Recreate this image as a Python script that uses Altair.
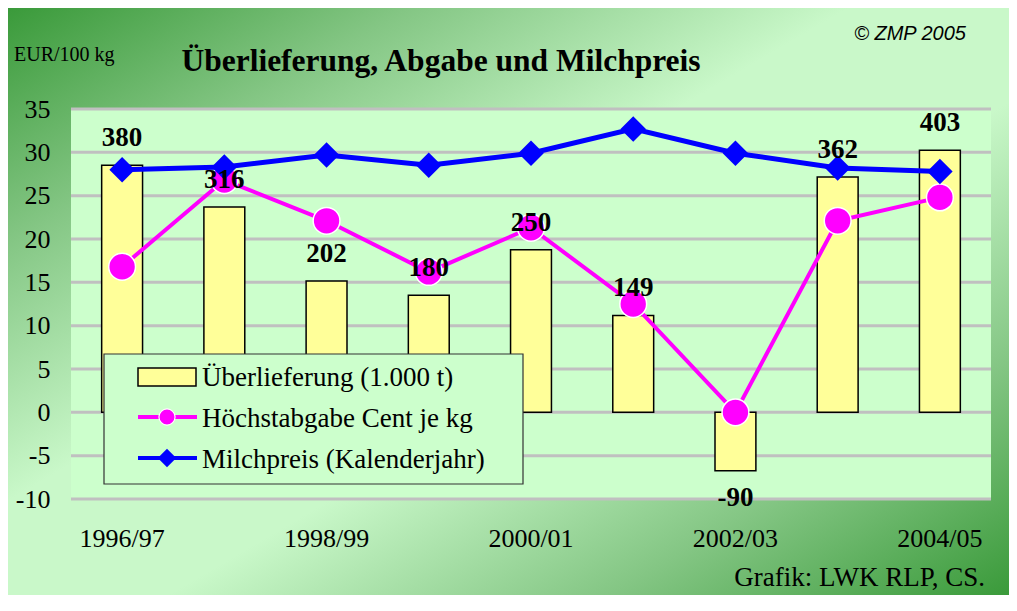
import altair as alt
import pandas as pd

# ---- data ----
seasons = ["1996/97", "1997/98", "1998/99", "1999/00", "2000/01",
           "2001/02", "2002/03", "2003/04", "2004/05"]
ueberlieferung = [380, 316, 202, 180, 250, 149, -90, 362, 403]        # 1.000 t
hoechstabgabe = [16.8, 26.8, 22.1, 16.2, 21.3, 12.5, 0.0, 22.1, 24.8]  # Cent je kg
milchpreis = [28.0, 28.3, 29.7, 28.5, 29.9, 32.7, 29.9, 28.2, 27.8]    # EUR/100 kg
y_ticks = [-10, -5, 0, 5, 10, 15, 20, 25, 30, 35]
x_tick_labels = ["1996/97", "1998/99", "2000/01", "2002/03", "2004/05"]
bar_ratio = 13.33  # 1.000 t per unit of the left axis

df = pd.DataFrame({
    "season": seasons,
    "ueber": ueberlieferung,
    "abgabe": hoechstabgabe,
    "preis": milchpreis,
})
ticks_df = pd.DataFrame({"v": y_ticks})
one = pd.DataFrame({"a": [0]})

W, H = 920, 390
PAD = {"left": 63, "top": 101, "right": 18, "bottom": 96}
SERIF = "Liberation Serif"

xscale = alt.Scale(domain=seasons, paddingInner=0.6, paddingOuter=0.3)
yscale = alt.Scale(domain=[-10, 35], nice=False, zero=False)

x_axis = alt.Axis(values=x_tick_labels, title=None, labelFont=SERIF,
                  labelFontSize=26, labelColor="black", labelPadding=26,
                  ticks=False, domain=False, labelAngle=0, grid=False,
                  zindex=2)
y_axis = alt.Axis(values=y_ticks, title=None, labelFont=SERIF,
                  labelFontSize=26, labelColor="black", labelPadding=21,
                  ticks=False, domain=False, grid=False, zindex=2,
                  labelExpr="'' + datum.value")


def X():
    return alt.X("season:N", sort=seasons, scale=xscale, axis=x_axis)


def Y(field):
    return alt.Y(field, scale=yscale, axis=y_axis)


# background gradient
bg = alt.Chart(one).mark_rect(
    fill=alt.Gradient(
        gradient="linear",
        stops=[
            alt.GradientStop(offset=0, color="#3a9a3a"),
            alt.GradientStop(offset=0.2, color="#84c684"),
            alt.GradientStop(offset=0.42, color="#c9f8c9"),
            alt.GradientStop(offset=0.58, color="#c9f8c9"),
            alt.GradientStop(offset=0.8, color="#84c684"),
            alt.GradientStop(offset=1, color="#3a9a3a"),
        ],
        x1=0, y1=0, x2=1, y2=1,
    ),
    strokeWidth=0,
).encode(x=alt.value(-PAD["left"]), x2=alt.value(W + PAD["right"]),
         y=alt.value(-PAD["top"]), y2=alt.value(H + PAD["bottom"]))

plotbg = alt.Chart(one).mark_rect(fill="#ccffcc", strokeWidth=0).encode(
    x=alt.value(0), x2=alt.value(W), y=alt.value(0), y2=alt.value(H))

grid = alt.Chart(ticks_df).mark_rule(color="#c0c0c0", strokeWidth=3).encode(
    y=Y("v:Q"), x=alt.value(0), x2=alt.value(W))

base = alt.Chart(df).transform_calculate(
    scaled=f"datum.ueber / {bar_ratio}",
    lab="'' + datum.ueber",
)

bars = base.mark_bar(color="#ffff99", stroke="black", strokeWidth=1.5).encode(
    x=X(), y=Y("scaled:Q"))

abg_line = alt.Chart(df).mark_line(color="#ff00ff", strokeWidth=4).encode(
    x=X(), y=Y("abgabe:Q"))
abg_pts = alt.Chart(df).mark_point(shape="circle", filled=True, size=720,
                                   color="#ff00ff", stroke="white",
                                   strokeWidth=1.5, opacity=1).encode(
    x=X(), y=Y("abgabe:Q"))

mp_line = alt.Chart(df).mark_line(color="#0000ff", strokeWidth=5).encode(
    x=X(), y=Y("preis:Q"))
mp_pts = alt.Chart(df).mark_point(shape="diamond", filled=True, size=650,
                                  color="#0000ff", opacity=1).encode(
    x=X(), y=Y("preis:Q"))

lab_style = dict(font=SERIF, fontSize=27, fontWeight="bold", color="black",
                 align="center", baseline="middle")
labels_pos = base.transform_filter("datum.ueber >= 0").mark_text(
    dy=-27, **lab_style).encode(x=X(), y=Y("scaled:Q"), text="lab:N")
labels_neg = base.transform_filter("datum.ueber < 0").mark_text(
    dy=27, **lab_style).encode(x=X(), y=Y("scaled:Q"), text="lab:N")

# legend box
leg_box = alt.Chart(one).mark_rect(fill="#ccffcc", stroke="#333333",
                                   strokeWidth=1.2).encode(
    x=alt.value(33), x2=alt.value(452), y=alt.value(245), y2=alt.value(375))
leg_bar = alt.Chart(one).mark_rect(fill="#ffff99", stroke="black",
                                   strokeWidth=1.5).encode(
    x=alt.value(67), x2=alt.value(125), y=alt.value(259), y2=alt.value(277))
leg_l1 = alt.Chart(one).mark_rule(color="#ff00ff", strokeWidth=4).encode(
    x=alt.value(67), x2=alt.value(126), y=alt.value(308))
leg_p1 = alt.Chart(one).mark_point(shape="circle", filled=True, size=260,
                                   color="#ff00ff", stroke="white",
                                   strokeWidth=1.2, opacity=1).encode(
    x=alt.value(96), y=alt.value(308))
leg_l2 = alt.Chart(one).mark_rule(color="#0000ff", strokeWidth=4).encode(
    x=alt.value(67), x2=alt.value(126), y=alt.value(349))
leg_p2 = alt.Chart(one).mark_point(shape="diamond", filled=True, size=340,
                                   color="#0000ff", opacity=1).encode(
    x=alt.value(96), y=alt.value(349))

leg_txt_style = dict(font=SERIF, fontSize=27, color="black", align="left",
                     baseline="middle")
leg_t1 = alt.Chart(one).mark_text(text="Überlieferung (1.000 t)",
                                  **leg_txt_style).encode(
    x=alt.value(131), y=alt.value(269))
leg_t2 = alt.Chart(one).mark_text(text="Höchstabgabe Cent je kg",
                                  **leg_txt_style).encode(
    x=alt.value(131), y=alt.value(310))
leg_t3 = alt.Chart(one).mark_text(text="Milchpreis (Kalenderjahr)",
                                  **leg_txt_style).encode(
    x=alt.value(131), y=alt.value(351))

# titles and notes
title = alt.Chart(one).mark_text(
    text="Überlieferung, Abgabe und Milchpreis", font=SERIF, fontSize=31.5,
    fontWeight="bold", color="black", align="center", baseline="middle").encode(
    x=alt.value(370), y=alt.value(-47))
unit = alt.Chart(one).mark_text(
    text="EUR/100 kg", font=SERIF, fontSize=20, color="black", align="left",
    baseline="middle").encode(x=alt.value(-57), y=alt.value(-54))
copy = alt.Chart(one).mark_text(
    text="© ZMP 2005", font="Liberation Sans", fontSize=20, fontStyle="italic",
    color="black", align="right", baseline="middle").encode(
    x=alt.value(895), y=alt.value(-75))
source = alt.Chart(one).mark_text(
    text="Grafik: LWK RLP, CS.", font=SERIF, fontSize=27, color="black",
    align="right", baseline="middle").encode(
    x=alt.value(914), y=alt.value(469))

chart = alt.layer(
    bg, plotbg, grid, bars, abg_line, abg_pts, mp_line, mp_pts,
    labels_pos, labels_neg,
    leg_box, leg_bar, leg_l1, leg_p1, leg_l2, leg_p2, leg_t1, leg_t2, leg_t3,
    title, unit, copy, source,
).properties(
    width=W, height=H, padding=PAD,
    autosize=alt.AutoSizeParams(type="none"),
).configure_view(strokeWidth=0).configure(background="white")

chart.save("out.html", embed_options={"renderer": "svg", "actions": False})
